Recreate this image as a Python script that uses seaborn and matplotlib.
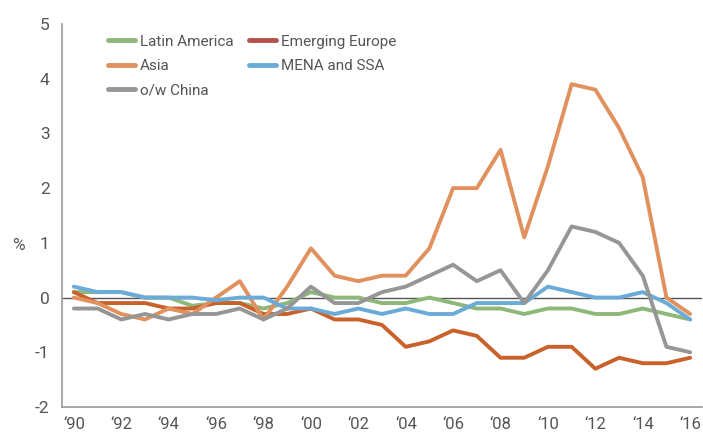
import numpy as np
import pandas as pd
import matplotlib
matplotlib.use('Agg')
import matplotlib.pyplot as plt
from matplotlib.lines import Line2D
import seaborn as sns

# Data (% values, 1990-2016)
years = list(range(1990, 2017))
latin_america = [0.1, 0.1, 0.1, 0.0, 0.0, -0.15, -0.1, -0.1, -0.2, -0.1, 0.1, 0.0, 0.0, -0.1,
                 -0.1, 0.0, -0.1, -0.2, -0.2, -0.3, -0.2, -0.2, -0.3, -0.3, -0.2, -0.3, -0.4]
emerging_europe = [0.1, -0.1, -0.1, -0.1, -0.2, -0.2, -0.1, -0.1, -0.3, -0.3, -0.2, -0.4, -0.4, -0.5,
                   -0.9, -0.8, -0.6, -0.7, -1.1, -1.1, -0.9, -0.9, -1.3, -1.1, -1.2, -1.2, -1.1]
asia = [0.0, -0.1, -0.3, -0.4, -0.2, -0.3, 0.0, 0.3, -0.4, 0.2, 0.9, 0.4, 0.3, 0.4,
        0.4, 0.9, 2.0, 2.0, 2.7, 1.1, 2.4, 3.9, 3.8, 3.1, 2.2, 0.0, -0.3]
mena_ssa = [0.2, 0.1, 0.1, 0.0, 0.0, 0.0, -0.05, 0.0, 0.0, -0.2, -0.2, -0.3, -0.2, -0.3,
            -0.2, -0.3, -0.3, -0.1, -0.1, -0.1, 0.2, 0.1, 0.0, 0.0, 0.1, -0.1, -0.4]
china = [-0.2, -0.2, -0.4, -0.3, -0.4, -0.3, -0.3, -0.2, -0.4, -0.2, 0.2, -0.1, -0.1, 0.1,
         0.2, 0.4, 0.6, 0.3, 0.5, -0.1, 0.5, 1.3, 1.2, 1.0, 0.4, -0.9, -1.0]

series_names = ['Latin America', 'Emerging Europe', 'Asia', 'MENA and SSA', 'o/w China']
line_colors = ['#8db87a', '#c8622a', '#e0915e', '#6aabd7', '#969696']
legend_colors = ['#8db87a', '#b5504b', '#e0915e', '#6aabd7', '#969696']

# long-form table for seaborn
df = pd.DataFrame({'Year': years, 'Latin America': latin_america, 'Emerging Europe': emerging_europe,
                   'Asia': asia, 'MENA and SSA': mena_ssa, 'o/w China': china})
long_df = df.melt(id_vars='Year', var_name='Region', value_name='Value')
long_df['pos'] = long_df['Year'] - years[0]

sns.set_style('white')
plt.rcParams['font.family'] = ['Roboto', 'DejaVu Sans']
text_color = '#555555'

fig = plt.figure(figsize=(7.03, 4.37), dpi=100)
ax = fig.add_axes([62 / 703, 1 - 407 / 437, 640 / 703, 383 / 437])

ax.axhline(0, color='#555555', lw=1.0, zorder=1)
sns.lineplot(data=long_df, x='pos', y='Value', hue='Region', hue_order=series_names,
             palette=dict(zip(series_names, line_colors)), linewidth=2.8, ax=ax,
             legend=False, zorder=3)

# axes styling
ax.set_xlim(-0.5, len(years) - 0.5)
ax.set_ylim(-2, 5)
ax.set_yticks(range(-2, 6))
ax.set_yticklabels([str(v) for v in range(-2, 6)], fontsize=12.5, color=text_color)
ax.set_xticks(np.arange(-0.5, len(years), 1.0))
ax.set_xticklabels([])
ax.set_xticks(range(0, len(years), 2), minor=True)
ax.set_xticklabels(['\u2018' + str(y)[2:] for y in years[::2]], minor=True,
                   fontsize=12, color=text_color)
ax.tick_params(axis='x', which='major', length=7, color='#999999', width=1, direction='out')
ax.tick_params(axis='x', which='minor', length=0, pad=7)
ax.tick_params(axis='y', length=5, color='#999999', width=1, direction='out', pad=4)
ax.set_xlabel('')
ax.set_ylabel('')
for side in ['top', 'right']:
    ax.spines[side].set_visible(False)
for side in ['left', 'bottom']:
    ax.spines[side].set_color('#999999')
    ax.spines[side].set_linewidth(1.2)

fig.text(12 / 703, 1 - 245 / 437, '%', fontsize=12.5, color=text_color, ha='left', va='center')

# legend, filled column-wise so rows read LatAm | EmEur, Asia | MENA, China
order = [0, 2, 4, 1, 3]
handles = [Line2D([], [], color=legend_colors[i], lw=3.5) for i in order]
labels = [series_names[i] for i in order]
ax.legend(handles, labels, ncol=2, loc='upper left', bbox_to_anchor=(0.05, 1.008),
          frameon=False, fontsize=11, labelcolor=text_color, handlelength=1.8,
          handletextpad=0.3, columnspacing=1.0, labelspacing=0.68)

fig.savefig('out.png', dpi=100)
